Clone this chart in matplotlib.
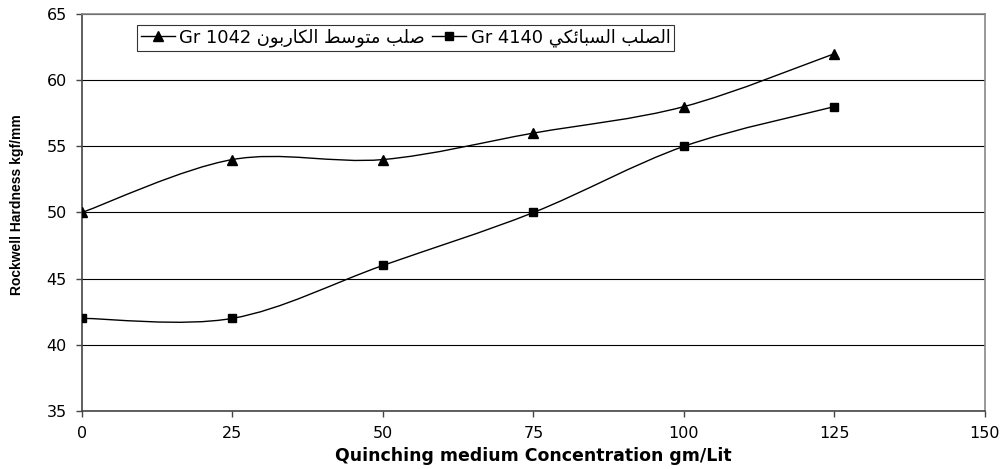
import numpy as np
import matplotlib
matplotlib.use("Agg")
import matplotlib.pyplot as plt
from matplotlib.path import Path
from matplotlib.patches import PathPatch
from matplotlib.font_manager import FontProperties

plt.rcParams['font.family'] = ['DejaVu Sans']

conc = [0, 25, 50, 75, 100, 125]
gr1042 = [50, 54, 54, 56, 58, 62]
gr4140 = [42, 42, 46, 50, 55, 58]

# Arabic text written with presentation forms in visual order (matplotlib has no shaping)
ar_1042 = ("\uFEE5\uFEEE\uFE91\uFEAD\uFE8E\uFEDC\uFEDF\uFE8D "
           "\uFEC2\uFEB3\uFEEE\uFE98\uFEE3 \uFE90\uFEE0\uFEBB")
ar_4140 = ("\uFEF2\uFEDC\uFE8B\uFE8E\uFE92\uFEB4\uFEDF\uFE8D "
           "\uFE90\uFEE0\uFEBC\uFEDF\uFE8D")
label_1042 = "Gr 1042 " + ar_1042
label_4140 = "Gr 4140 " + ar_4140


def smooth_path(x, y):
    # Excel-like smoothed line: cubic Bezier through the points (Catmull-Rom)
    p = np.column_stack([x, y]).astype(float)
    n = len(p)
    verts = [p[0]]
    codes = [Path.MOVETO]
    for i in range(n - 1):
        p0 = p[i - 1] if i > 0 else p[i]
        p3 = p[i + 2] if i + 2 < n else p[i + 1]
        c1 = p[i] + (p[i + 1] - p0) / 6
        c2 = p[i + 1] - (p3 - p[i]) / 6
        verts += [c1, c2, p[i + 1]]
        codes += [Path.CURVE4] * 3
    return Path(verts, codes)


fig = plt.figure(figsize=(10.07, 4.69), dpi=100)
ax = fig.add_axes([0.0814, 0.1237, 0.8967, 0.8465])

for ys in [gr1042, gr4140]:
    ax.add_patch(PathPatch(smooth_path(conc, ys), fill=False, edgecolor='black', lw=1.0, zorder=3))

ax.plot(conc, gr1042, ls='none', marker='^', ms=6.5, color='black', zorder=4)
ax.plot(conc, gr4140, ls='none', marker='s', ms=6, color='black', zorder=4)

# legend handles
h1, = ax.plot([], [], '-^', color='black', lw=1.0, ms=6.5)
h2, = ax.plot([], [], '-s', color='black', lw=1.0, ms=6)

ax.set_xlim(0, 150)
ax.set_ylim(35, 65)
ax.set_xticks(range(0, 151, 25))
ax.set_yticks(range(35, 66, 5))
ax.yaxis.grid(True, color='black', lw=0.8)
ax.set_axisbelow(True)
for s in ['top', 'right']:
    ax.spines[s].set_color('#888888')
    ax.spines[s].set_linewidth(1.2)
for s in ['left', 'bottom']:
    ax.spines[s].set_color('#444444')
    ax.spines[s].set_linewidth(1.2)
ax.tick_params(direction='out', length=4, width=1, color='#444444', labelsize=11.5, pad=7)

ax.set_xlabel("Quinching medium Concentration gm/Lit", fontsize=12.5, fontweight='bold', labelpad=4)
ax.set_ylabel("Rockwell Hardness kgf/mm", fontsize=10, fontweight='bold',
              family='Liberation Sans')
ax.yaxis.set_label_coords(-0.064, 0.52)

leg = ax.legend([h1, h2], [label_1042, label_4140], ncol=2, loc='upper left',
                bbox_to_anchor=(137 / 1007, 1 - 25 / 469), bbox_transform=fig.transFigure,
                prop=FontProperties(family='DejaVu Sans', size=12.9),
                frameon=True, fancybox=False, borderpad=0.2, handlelength=1.9,
                handletextpad=0.25, columnspacing=0.4, borderaxespad=0)
leg.get_frame().set_edgecolor('black')
leg.get_frame().set_linewidth(0.8)

fig.savefig("out.png", dpi=100)
